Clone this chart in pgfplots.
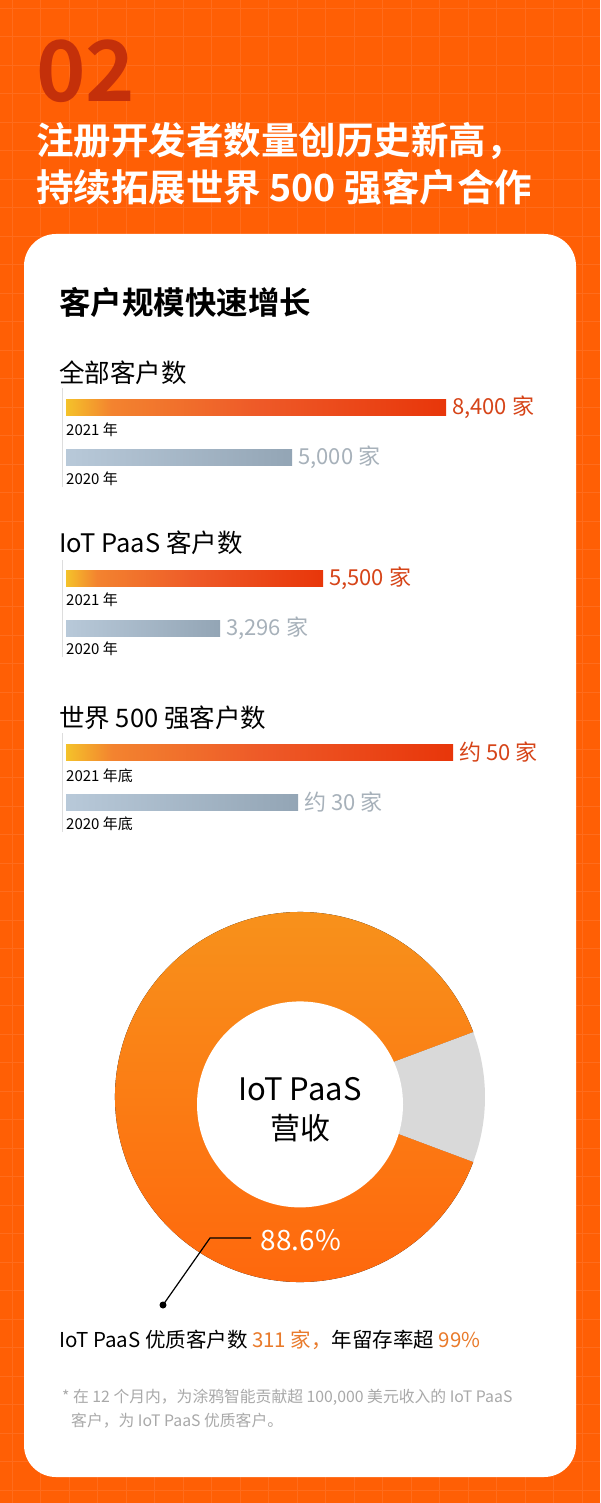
\documentclass[border=0pt]{standalone}
\usepackage{fontspec}
\usepackage{pgfplots}
\usepackage{pgfplotstable}
\pgfplotsset{compat=1.18}
\setmainfont{Noto Sans CJK SC}[BoldFont={Noto Sans CJK SC Bold}]
\newcommand{\fs}[1]{\fontsize{#1pt}{#1pt}\selectfont}

\definecolor{bg}{HTML}{FF5F05}
\definecolor{gridc}{HTML}{FF6C1C}
\definecolor{numc}{HTML}{C4300A}
\definecolor{hotA}{HTML}{F4C22A}
\definecolor{hotB}{HTML}{F3832F}
\definecolor{hotC}{HTML}{EE5A28}
\definecolor{hotD}{HTML}{E8360A}
\definecolor{coolA}{HTML}{B8C9D9}
\definecolor{coolB}{HTML}{93A5B5}
\definecolor{hotlab}{HTML}{D64418}
\definecolor{coollab}{HTML}{A7B1BA}
\definecolor{donutTop}{HTML}{F7941C}
\definecolor{donutBot}{HTML}{FF650C}
\definecolor{donutGray}{HTML}{D9D9D9}
\definecolor{accent}{HTML}{E97A2A}
\definecolor{notec}{HTML}{A9A9A9}
\definecolor{vline}{HTML}{DDDDDD}

\pgfdeclarehorizontalshading{hotbar}{100bp}{color(0bp)=(hotA); color(25bp)=(hotA); color(31bp)=(hotB); color(50bp)=(hotC); color(75bp)=(hotD); color(100bp)=(hotD)}

\pgfplotstableread{
part share
paas 88.6
other 11.4
}\donuttable

\pgfplotsset{barax/.style={anchor=south west, scale only axis, height=100pt,
  xmin=0, ymin=-0.5, ymax=1.5, hide axis, clip=false}}

\begin{document}
\begin{tikzpicture}[x=1pt, y=-1pt]
\useasboundingbox (0,0) rectangle (600,1503);
\fill[bg] (0,0) rectangle (600,1503);
\foreach \i in {0,...,21} {
  \draw[gridc, line width=0.7pt] (12+28.5*\i,0) -- (12+28.5*\i,1503);
}
\foreach \i in {0,...,53} {
  \draw[gridc, line width=0.7pt] (0,8+28.5*\i) -- (600,8+28.5*\i);
}
\fill[white, rounded corners=32pt] (24,234) rectangle (576,1477);

% headline
\node[anchor=base west, inner sep=0, text=numc, font=\bfseries\fs{84}] at (36,102) {02};
\node[anchor=west, inner sep=0, text=white, font=\bfseries\fs{37.5}] at (36,141) {注册开发者数量创历史新高，};
\node[anchor=west, inner sep=0, text=white, font=\bfseries\fs{37.5}] at (36,187) {持续拓展世界 500 强客户合作};

\node[anchor=west, inner sep=0, font=\bfseries\fs{31.5}] at (59,302) {客户规模快速增长};

% group titles and frames
\node[anchor=west, inner sep=0, font=\fs{25.5}] at (59,373) {全部客户数};
\node[anchor=west, inner sep=0, font=\fs{25.5}] at (59,543) {IoT PaaS 客户数};
\node[anchor=west, inner sep=0, font=\fs{25.5}] at (59,718) {世界 500 强客户数};
\draw[vline, line width=1pt] (62,388) -- (62,487);
\draw[vline, line width=1pt] (62,560) -- (62,657);
\draw[vline, line width=1pt] (62,733) -- (62,832);

\node[anchor=west, inner sep=0, font=\fs{15}] at (66,430) {2021 年};
\node[anchor=west, inner sep=0, font=\fs{15}] at (66,479) {2020 年};
\node[anchor=west, inner sep=0, font=\fs{15}] at (66,600) {2021 年};
\node[anchor=west, inner sep=0, font=\fs{15}] at (66,649) {2020 年};
\node[anchor=west, inner sep=0, font=\fs{15}] at (66,776) {2021 年底};
\node[anchor=west, inner sep=0, font=\fs{15}] at (66,824) {2020 年底};

% group 1
\begin{axis}[barax, at={(66pt,-482pt)}, width=380pt, xmax=8400]
\addplot[xbar, bar width=16pt, bar shift=0pt, draw=none, shading=hotbar] coordinates {(8400,1)};
\addplot[xbar, bar width=16pt, bar shift=0pt, draw=none, left color=coolA, right color=coolB] coordinates {(5000,0)};
\node[anchor=west, inner sep=0, xshift=6pt, text=hotlab, font=\fs{22}] at (axis cs:8400,1) {8,400 家};
\node[anchor=west, inner sep=0, xshift=6pt, text=coollab, font=\fs{22}] at (axis cs:5000,0) {5,000 家};
\end{axis}

% group 2
\begin{axis}[barax, at={(66pt,-653pt)}, width=257pt, xmax=5500]
\addplot[xbar, bar width=16pt, bar shift=0pt, draw=none, shading=hotbar] coordinates {(5500,1)};
\addplot[xbar, bar width=16pt, bar shift=0pt, draw=none, left color=coolA, right color=coolB] coordinates {(3296,0)};
\node[anchor=west, inner sep=0, xshift=6pt, text=hotlab, font=\fs{22}] at (axis cs:5500,1) {5,500 家};
\node[anchor=west, inner sep=0, xshift=6pt, text=coollab, font=\fs{22}] at (axis cs:3296,0) {3,296 家};
\end{axis}

% group 3
\begin{axis}[barax, at={(66pt,-827pt)}, width=387pt, xmax=50]
\addplot[xbar, bar width=16pt, bar shift=0pt, draw=none, shading=hotbar] coordinates {(50,1)};
\addplot[xbar, bar width=16pt, bar shift=0pt, draw=none, left color=coolA, right color=coolB] coordinates {(30,0)};
\node[anchor=west, inner sep=0, xshift=6pt, text=hotlab, font=\fs{22}] at (axis cs:50,1) {约 50 家};
\node[anchor=west, inner sep=0, xshift=6pt, text=coollab, font=\fs{22}] at (axis cs:30,0) {约 30 家};
\end{axis}

% donut
\pgfplotstablegetelem{1}{share}\of\donuttable
\pgfmathsetmacro{\ga}{\pgfplotsretval*1.8}
\pgfmathsetmacro{\gb}{360-\ga}
\begin{axis}[at={(300pt,-1097pt)}, anchor=center, scale only axis, width=370pt, height=370pt,
  xmin=-1, xmax=1, ymin=-1, ymax=1, hide axis, clip=false]
\fill[top color=donutTop, bottom color=donutBot] (axis cs:0,0) -- ++(\ga:185pt) arc[start angle=\ga, end angle=\gb, radius=185pt] -- cycle;
\fill[donutGray] (axis cs:0,0) -- ++(-\ga:185pt) arc[start angle=-\ga, end angle=\ga, radius=185pt] -- cycle;
\fill[white] (axis cs:0,-0.04) circle[radius=103pt];
\end{axis}

\node[inner sep=0, font=\fs{31}] at (300,1089) {IoT PaaS};
\node[inner sep=0, font=\fs{30}] at (300,1128) {营收};
\node[inner sep=0, text=white, font=\fs{28}] at (301,1240) {88.6\%};
\draw[black, line width=1.2pt] (251,1238) -- (210,1238) -- (163,1305);
\fill[black] (163,1305) circle[radius=3.5pt];

\node[anchor=west, inner sep=0, font=\fs{20.5}] at (59,1340) {IoT PaaS 优质客户数 \textcolor{accent}{311 家，}年留存率超 \textcolor{accent}{99\%}};
\node[anchor=west, inner sep=0, text=notec, font=\fs{15.8}] at (62,1397) {* 在 12 个月内，为涂鸦智能贡献超 100,000 美元收入的 IoT PaaS};
\node[anchor=west, inner sep=0, text=notec, font=\fs{15.8}] at (71,1421) {客户，为 IoT PaaS 优质客户。};
\end{tikzpicture}
\end{document}
